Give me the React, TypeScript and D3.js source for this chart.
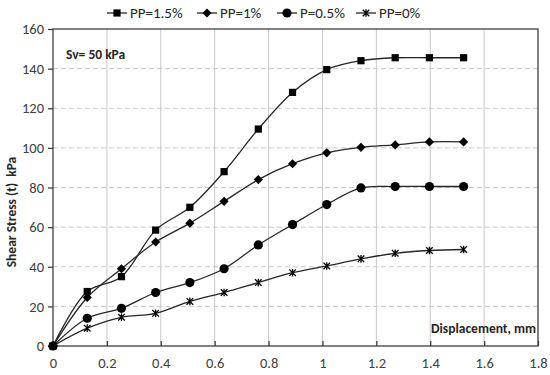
import React, { useEffect, useRef } from "react";
import * as d3 from "d3";

// displacement (mm) at each reading
const displacement = [0, 0.127, 0.254, 0.381, 0.508, 0.635, 0.762, 0.889, 1.016, 1.143, 1.27, 1.397, 1.524];

// shear stress (kPa) per fibre content
const pp15 = [0, 27.5, 35, 58.5, 70, 88, 109.5, 128, 139.5, 144, 145.5, 145.5, 145.5];
const pp10 = [0, 24.5, 39, 52.5, 62, 73, 84, 92, 97.5, 100.3, 101.5, 103, 103];
const pp05 = [0, 14, 19, 27, 32, 39, 51, 61.3, 71.4, 79.8, 80.5, 80.5, 80.5];
const pp00 = [0, 9, 14.5, 16.5, 22.5, 27, 32, 37, 40.4, 44, 46.8, 48.2, 48.7];

const seriesNames = ["PP=1.5%", "PP=1%", "P=0.5%", "PP=0%"];
const markerTypes = ["square", "diamond", "circle", "star"];

const xTicks = [0, 0.2, 0.4, 0.6, 0.8, 1, 1.2, 1.4, 1.6, 1.8];
const yTicks = [0, 20, 40, 60, 80, 100, 120, 140, 160];

const W = 550;
const H = 375;
const margin = { left: 53, right: 12, top: 29, bottom: 29 };

function drawMarker(g: any, type: string, x: number, y: number) {
  if (type === "square") {
    g.append("rect").attr("x", x - 3.6).attr("y", y - 3.6).attr("width", 7.2).attr("height", 7.2).attr("fill", "#000");
  } else if (type === "diamond") {
    g.append("path").attr("d", `M${x},${y - 4.6}L${x + 4.6},${y}L${x},${y + 4.6}L${x - 4.6},${y}Z`).attr("fill", "#000");
  } else if (type === "circle") {
    g.append("circle").attr("cx", x).attr("cy", y).attr("r", 4.6).attr("fill", "#000");
  } else {
    const s = 3.3;
    g.append("path")
      .attr("d", `M${x - s},${y - s}L${x + s},${y + s}M${x - s},${y + s}L${x + s},${y - s}M${x},${y - s - 0.5}L${x},${y + s + 0.5}`)
      .attr("stroke", "#000")
      .attr("stroke-width", 1.3)
      .attr("fill", "none");
  }
}

export default function App() {
  const ref = useRef<SVGSVGElement>(null);

  useEffect(() => {
    const svg = d3.select(ref.current);
    svg.selectAll("*").remove();
    const font = "Calibri, Carlito, 'Liberation Sans', Arial, sans-serif";

    const x = d3.scaleLinear().domain([0, 1.8]).range([margin.left, W - margin.right]);
    const y = d3.scaleLinear().domain([0, 160]).range([H - margin.bottom, margin.top]);

    // grid
    const grid = svg.append("g");
    xTicks.slice(1, -1).forEach(t => {
      grid.append("line").attr("x1", x(t)).attr("x2", x(t)).attr("y1", y(0)).attr("y2", y(160))
        .attr("stroke", "#c8c8c8").attr("stroke-width", 1);
    });
    yTicks.slice(1, -1).forEach(t => {
      grid.append("line").attr("x1", x(0)).attr("x2", x(1.8)).attr("y1", y(t)).attr("y2", y(t))
        .attr("stroke", "#c8c8c8").attr("stroke-width", 1).attr("stroke-dasharray", "5,3");
    });

    // frame
    svg.append("rect").attr("x", x(0)).attr("y", y(160)).attr("width", x(1.8) - x(0)).attr("height", y(0) - y(160))
      .attr("fill", "none").attr("stroke", "#404040").attr("stroke-width", 1.3);

    // axes
    const yAxis = d3.axisLeft(y).tickValues(yTicks).tickSize(5).tickPadding(4);
    const gy = svg.append("g").attr("transform", `translate(${x(0)},0)`).call(yAxis);
    gy.select(".domain").remove();
    gy.selectAll("line").attr("stroke", "#404040").attr("stroke-width", 1.3);
    gy.selectAll("text").attr("font-family", font).attr("font-size", 14.5).attr("fill", "#404040");

    const xAxis = d3.axisBottom(x).tickValues(xTicks).tickSize(-5).tickPadding(12).tickFormat(d => String(d));
    const gx = svg.append("g").attr("transform", `translate(0,${y(0)})`).call(xAxis);
    gx.select(".domain").remove();
    gx.selectAll("line").attr("stroke", "#404040").attr("stroke-width", 1.3);
    gx.selectAll("text").attr("font-family", font).attr("font-size", 14.5).attr("fill", "#404040");

    // series
    const all = [pp15, pp10, pp05, pp00];
    const lineGen = d3.line<number>()
      .x((_, i) => x(displacement[i]))
      .y(d => y(d))
      .curve(d3.curveCatmullRom.alpha(0.5));

    all.forEach((vals, si) => {
      svg.append("path").attr("d", lineGen(vals)).attr("fill", "none").attr("stroke", "#262626").attr("stroke-width", 1.3);
      const mg = svg.append("g");
      vals.forEach((v, i) => drawMarker(mg, markerTypes[si], x(displacement[i]), y(v)));
    });

    // legend
    const legendX = [107, 197, 277, 356];
    seriesNames.forEach((name, i) => {
      const lg = svg.append("g");
      const lx = legendX[i];
      lg.append("line").attr("x1", lx).attr("x2", lx + 20).attr("y1", 13).attr("y2", 13).attr("stroke", "#262626").attr("stroke-width", 1.3);
      drawMarker(lg, markerTypes[i], lx + 10, 13);
      lg.append("text").attr("x", lx + 23).attr("y", 13).attr("dy", "0.35em")
        .attr("font-family", font).attr("font-size", 15).attr("fill", "#262626").text(name);
    });

    // annotations
    svg.append("text").attr("x", 66).attr("y", 54).attr("dy", "0.35em")
      .attr("font-family", font).attr("font-size", 13.5).attr("font-weight", "bold").attr("fill", "#262626").text("Sv= 50 kPa");
    svg.append("text").attr("x", 536).attr("y", 328).attr("dy", "0.35em").attr("text-anchor", "end")
      .attr("font-family", font).attr("font-size", 13.5).attr("font-weight", "bold").attr("fill", "#262626").text("Displacement, mm");
    svg.append("text").attr("transform", `translate(11,212) rotate(-90)`).attr("dy", "0.35em")
      .attr("text-anchor", "middle").attr("font-family", font).attr("font-size", 13.5).attr("font-weight", "bold")
      .attr("fill", "#262626").attr("xml:space", "preserve").text("Shear Stress (t)  kPa");
  }, []);

  return (
    <svg ref={ref} width={W} height={H} style={{ position: "absolute", left: 0, top: 0, background: "#fff" }} />
  );
}
